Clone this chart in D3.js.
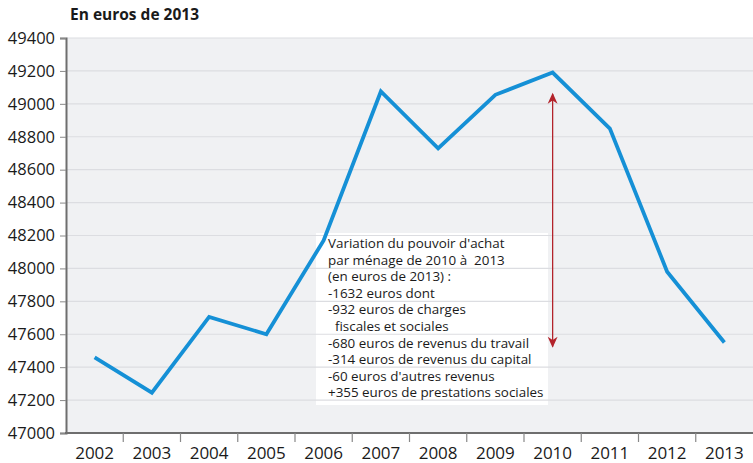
<!DOCTYPE html>
<html>
<head>
<meta charset="utf-8">
<script src="https://cdn.jsdelivr.net/npm/d3@7"></script>
<style>
  html, body { margin: 0; padding: 0; background: #ffffff; }
  svg { display: block; font-family: "Open Sans", "DejaVu Sans", sans-serif; }
</style>
</head>
<body>
<svg id="chart" width="753" height="463"></svg>
<script>
// Revenu disponible moyen par ménage, en euros de 2013
const years = ["2002","2003","2004","2005","2006","2007","2008","2009","2010","2011","2012","2013"];
const values = [47460, 47245, 47705, 47600, 48170, 49075, 48730, 49055, 49190, 48850, 47980, 47550];
const yTicks = [47000, 47200, 47400, 47600, 47800, 48000, 48200, 48400, 48600, 48800, 49000, 49200, 49400];
const noteLines = [
  "Variation du pouvoir d'achat",
  "par ménage de 2010 à  2013",
  "(en euros de 2013) :",
  "-1632 euros dont",
  "-932 euros de charges",
  "  fiscales et sociales",
  "-680 euros de revenus du travail",
  "-314 euros de revenus du capital",
  "-60 euros d'autres revenus",
  "+355 euros de prestations sociales"
];
// double arrow between 2010 and 2013 levels
const arrowYear = "2010";
const arrowFrom = 49060;
const arrowTo = 47525;

const svg = d3.select("#chart");
const m = { left: 66, right: 0, top: 38, bottom: 30 };
const W = 753, H = 463;

const x = d3.scaleBand().domain(years).range([m.left, W - m.right]);
const y = d3.scaleLinear().domain([47000, 49400]).range([H - m.bottom, m.top]);

// plot background
svg.append("rect")
  .attr("x", m.left).attr("y", m.top)
  .attr("width", W - m.right - m.left).attr("height", y(47000) - m.top)
  .attr("fill", "#f0f1f3");

// note box (gridlines run across it)
const noteX = 316, noteY = 233, lineH = 16.6;
svg.append("rect").attr("x", noteX).attr("y", noteY)
  .attr("width", 232).attr("height", noteLines.length * lineH + 6)
  .attr("fill", "#ffffff");

// gridlines
svg.append("g").selectAll("line").data(yTicks.slice(1)).join("line")
  .attr("x1", m.left).attr("x2", W - m.right)
  .attr("y1", d => y(d)).attr("y2", d => y(d))
  .attr("stroke", "#dcdde1").attr("stroke-width", 1.2);

// title
svg.append("text").attr("x", 70).attr("y", 20)
  .attr("font-size", 15.5).attr("font-weight", "bold").attr("fill", "#1a1a1a")
  .text("En euros de 2013");

// y axis
const yAxis = svg.append("g").attr("transform", `translate(${m.left},0)`)
  .call(d3.axisLeft(y).tickValues(yTicks).tickFormat(d3.format("d")).tickSize(6).tickPadding(5));
yAxis.select(".domain").attr("stroke", "#6e6e6e").attr("stroke-width", 2);
yAxis.selectAll(".tick line").attr("stroke", "#888");
yAxis.selectAll(".tick text").attr("font-size", 16.5).attr("fill", "#1a1a1a")
  .attr("font-family", "'Open Sans', sans-serif");

// x axis: ticks on band boundaries
const xg = svg.append("g").attr("transform", `translate(0,${y(47000)})`);
xg.append("line").attr("x1", m.left - 1).attr("x2", W).attr("y1", 0).attr("y2", 0)
  .attr("stroke", "#6e6e6e").attr("stroke-width", 2);
xg.selectAll("line.tk").data(years.slice(1)).join("line").attr("class", "tk")
  .attr("x1", d => x(d)).attr("x2", d => x(d)).attr("y1", 0).attr("y2", 9)
  .attr("stroke", "#888").attr("stroke-width", 1.2);
xg.selectAll("text").data(years).join("text")
  .attr("x", d => x(d) + x.bandwidth() / 2).attr("y", 26)
  .attr("text-anchor", "middle").attr("font-size", 17).attr("fill", "#1a1a1a")
  .text(d => d);

// note text
svg.append("g").selectAll("text").data(noteLines).join("text")
  .attr("x", noteX + 12).attr("y", (d, i) => noteY + 15 + i * lineH)
  .attr("font-size", 13.4).attr("fill", "#1a1a1a")
  .attr("xml:space", "preserve").style("white-space", "pre")
  .text(d => d);

// series line
const line = d3.line().x((d, i) => x(years[i]) + x.bandwidth() / 2).y(d => y(d));
svg.append("path").datum(values)
  .attr("d", line).attr("fill", "none")
  .attr("stroke", "#1590d6").attr("stroke-width", 3.8).attr("stroke-linejoin", "miter");

// arrow
const ax = x(arrowYear) + x.bandwidth() / 2;
const defs = svg.append("defs");
defs.append("marker").attr("id", "ah").attr("viewBox", "0 0 10 10")
  .attr("refX", 9).attr("refY", 5).attr("markerWidth", 12).attr("markerHeight", 11)
  .attr("markerUnits", "userSpaceOnUse").attr("orient", "auto-start-reverse")
  .append("path").attr("d", "M0,0.5 L10,5 L0,9.5 L3,5 Z").attr("fill", "#b3232b");
svg.append("line")
  .attr("x1", ax).attr("x2", ax).attr("y1", y(arrowFrom)).attr("y2", y(arrowTo))
  .attr("stroke", "#b3232b").attr("stroke-width", 1.3)
  .attr("marker-start", "url(#ah)").attr("marker-end", "url(#ah)");
</script>
</body>
</html>
